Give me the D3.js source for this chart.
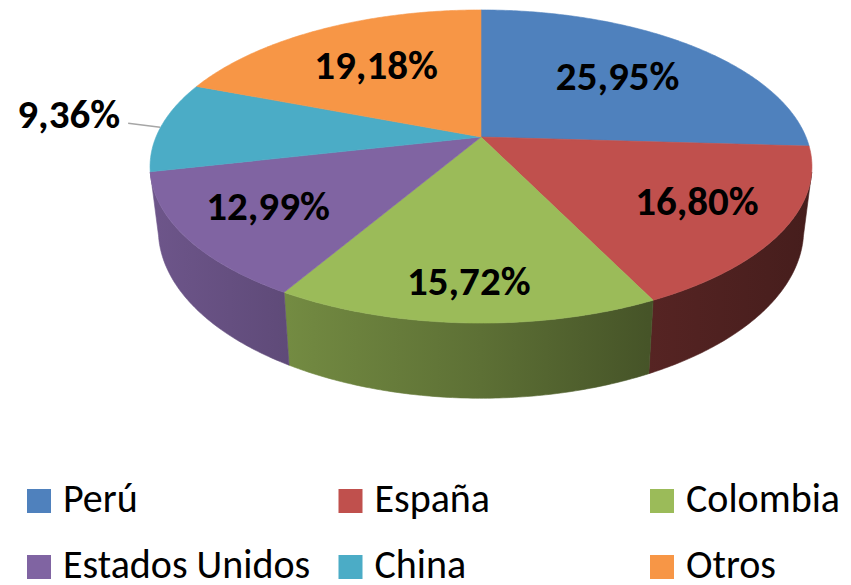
<!DOCTYPE html>
<html>
<head>
<meta charset="utf-8">
<script src="https://cdn.jsdelivr.net/npm/d3@7"></script>
<style>
  body { margin: 0; background: #fff; }
  text { font-family: Carlito, Calibri, Lato, sans-serif; }
</style>
</head>
<body>
<svg id="chart" width="851" height="585"></svg>
<script>
var countries = ["Perú", "España", "Colombia", "Estados Unidos", "China", "Otros"];
var shares = [25.95, 16.80, 15.72, 12.99, 9.36, 19.18];
var colors = ["#4F81BD", "#C0504D", "#9BBB59", "#8064A2", "#4BACC6", "#F79646"];

// 3d disc: projective tilt so the far half looks smaller
var cx = 481, cy = 137;
var rx = 325, ry = 151, depth = 61;
var persp = 0.1885, baseShrink = 0.975;

var svg = d3.select("#chart");
var defs = svg.append("defs");

function project(u, v, h) {
  var w = 1 - persp * v;
  var s = h ? baseShrink : 1;
  return [cx + rx * u * s / w, cy + (ry * v + depth * h) / w];
}

function pointAt(a, r, h) {
  return project(r * Math.sin(a), -r * Math.cos(a), h);
}

function arcPoints(a0, a1, h) {
  var n = Math.max(2, Math.ceil(Math.abs(a1 - a0) / 0.01));
  return d3.range(n + 1).map(function(i) {
    return pointAt(a0 + (a1 - a0) * i / n, 1, h);
  });
}

var fmt = d3.format(".2f");
function pctLabel(d) { return fmt(d).replace(".", ",") + "%"; }

var pie = d3.pie().sort(null).value(function(d) { return d; });
var slices = pie(shares);

// side walls: only the front part of the rim shows (bottom rim is a bit narrower)
var visFrom = Math.acos(-persp) + 0.035;
var visTo = 2 * Math.PI - Math.acos(-persp) - 0.035;

function shade(c, f) {
  var r = d3.rgb(c);
  return d3.rgb(r.r * f, r.g * f, r.b * f).formatHex();
}

slices.forEach(function(s, i) {
  var grad = defs.append("linearGradient")
      .attr("id", "wall" + i)
      .attr("gradientUnits", "userSpaceOnUse")
      .attr("x1", cx - rx - 10).attr("x2", cx + rx + 10)
      .attr("y1", 0).attr("y2", 0);
  [[0, 0.86], [0.25, 0.72], [0.5, 0.6], [0.75, 0.45], [1, 0.36]].forEach(function(st) {
    grad.append("stop")
        .attr("offset", st[0])
        .attr("stop-color", shade(colors[i], st[1]));
  });
});

var walls = svg.append("g").attr("class", "walls");
slices.forEach(function(s, i) {
  var a0 = Math.max(s.startAngle, visFrom);
  var a1 = Math.min(s.endAngle, visTo);
  if (a1 <= a0) return;
  var pts = arcPoints(a0, a1, 0).concat(arcPoints(a1, a0, 1));
  walls.append("path")
      .attr("d", "M" + pts.map(function(p) { return p.join(","); }).join("L") + "Z")
      .attr("fill", "url(#wall" + i + ")")
      .attr("stroke", "url(#wall" + i + ")")
      .attr("stroke-width", 0.6);
});

var tops = svg.append("g").attr("class", "tops");
slices.forEach(function(s, i) {
  var pts = [project(0, 0, 0)].concat(arcPoints(s.startAngle, s.endAngle, 0));
  tops.append("path")
      .attr("d", "M" + pts.map(function(p) { return p.join(","); }).join("L") + "Z")
      .attr("fill", colors[i])
      .attr("stroke", colors[i])
      .attr("stroke-width", 0.6)
      .attr("stroke-linejoin", "round");
});

// data labels
var labels = svg.append("g").attr("class", "labels");
slices.forEach(function(s, i) {
  var mid = (s.startAngle + s.endAngle) / 2;
  var txt = pctLabel(shares[i]);
  if (shares[i] < 10) {
    var edge = pointAt(mid, 1, 0);
    labels.append("line")
        .attr("x1", edge[0] - 33).attr("y1", edge[1] - 3)
        .attr("x2", edge[0] - 1).attr("y2", edge[1] + 1)
        .attr("stroke", "#a6a6a6")
        .attr("stroke-width", 1.5);
    labels.append("text")
        .attr("x", edge[0] - 41)
        .attr("y", edge[1] - 13.5)
        .attr("dy", "0.36em")
        .style("text-anchor", "end")
        .style("font-size", "41px")
        .style("font-weight", "bold")
        .text(txt);
    return;
  }
  var v = -Math.cos(mid);
  var r = 0.61 + 0.21 * Math.max(0, v);
  var p = pointAt(mid, r, 0);
  labels.append("text")
      .attr("x", p[0] + 4 * Math.sin(mid))
      .attr("y", p[1] - 3)
      .attr("dy", "0.36em")
      .style("text-anchor", "middle")
      .style("font-size", "41px")
      .style("font-weight", "bold")
      .text(txt);
});

// legend, 3 per row
var legend = svg.append("g").attr("class", "legend");
var item = legend.selectAll("g.item")
    .data(countries)
    .enter().append("g")
        .attr("class", "item")
        .attr("transform", function(d, i) {
          return `translate(${27 + (i % 3) * 311.5}, ${489 + Math.floor(i / 3) * 66})`; });

item.append("rect")
    .attr("width", 24)
    .attr("height", 24)
    .attr("fill", function(d, i) { return colors[i]; });

item.append("text")
    .attr("x", 36)
    .attr("y", 23)
    .style("font-size", "40px")
    .attr("fill", "#000")
    .text(function(d) { return d; });
</script>
</body>
</html>
